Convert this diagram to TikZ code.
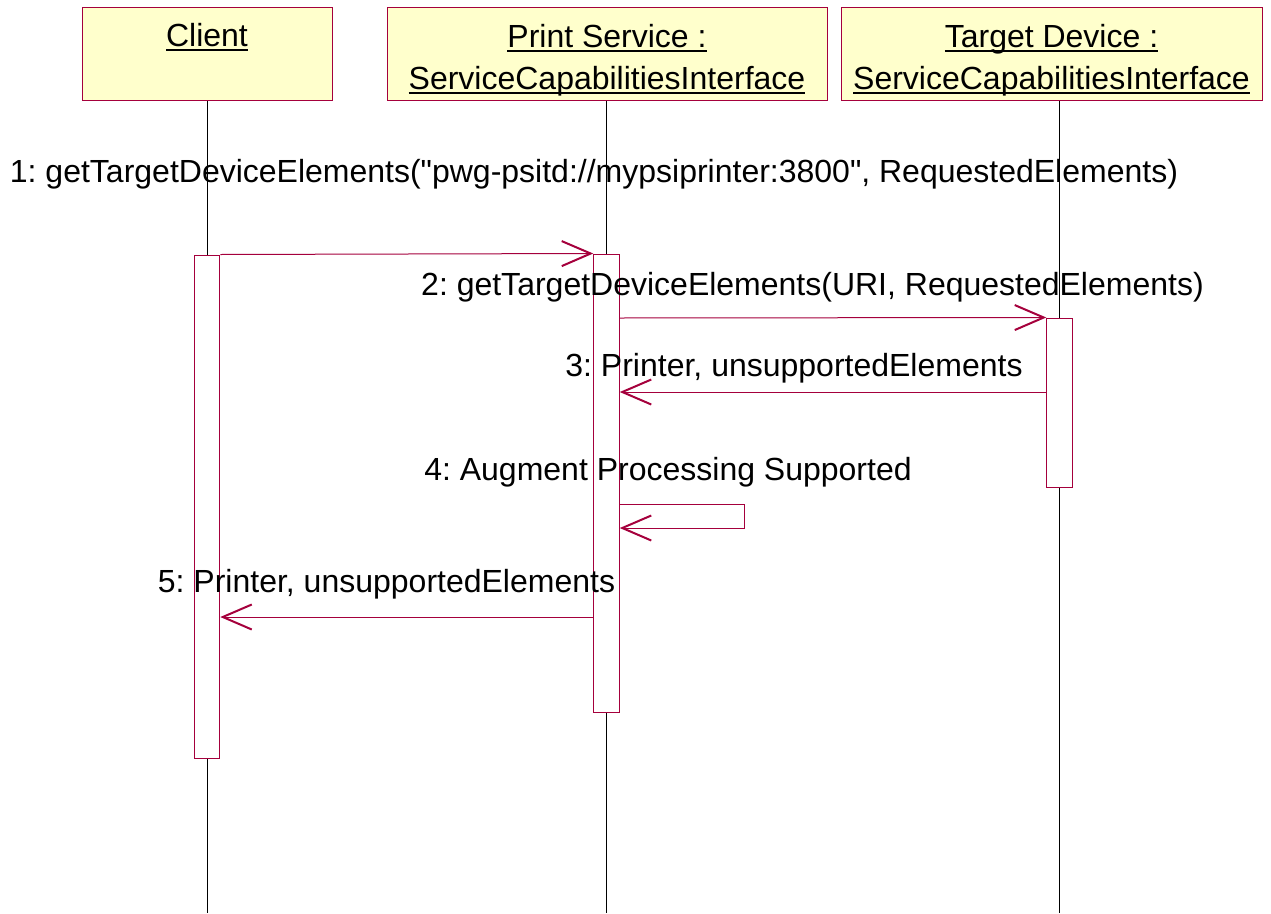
\documentclass[tikz,border=0pt]{standalone}
\usepackage{fontspec}
\setmainfont{Liberation Sans}
\usetikzlibrary{arrows.meta}
\definecolor{umlred}{RGB}{165,0,60}
\definecolor{umlyellow}{RGB}{255,255,204}
\newcommand\ulbox[1]{\setbox0\hbox{#1}\rlap{\rule[-4.5pt]{\wd0}{2pt}}\box0}
\frenchspacing
\begin{document}
\begin{tikzpicture}[x=1pt,y=-1pt,
  font=\fontsize{32}{42}\selectfont\frenchspacing,
  header/.style={draw=umlred,fill=umlyellow,line width=1pt,inner sep=0pt,anchor=north west},
  actbox/.style={draw=umlred,fill=white,line width=1pt,inner sep=0pt,minimum width=25.5pt},
  lifeline/.style={draw=black,line width=1pt},
  msg/.style={draw=umlred,line width=1pt,-{Straight Barb[length=29pt,width=25pt,line width=2pt]}},
  lbl/.style={inner sep=0pt,anchor=base}]
\useasboundingbox (0,0) rectangle (1271,913);
% header boxes
\node[header,minimum width=250pt,minimum height=93pt] (hc) at (82,7) {};
\node[header,minimum width=440pt,minimum height=93pt] (hp) at (387,7) {};
\node[header,minimum width=421pt,minimum height=93pt] (ht) at (841,7) {};
\node[lbl] (tc) at (207,46) {\ulbox{Client}};
\node[lbl] (tp1) at (607,47) {\ulbox{Print Service :}};
\node[lbl] (tp2) at (607,89) {\ulbox{ServiceCapabilitiesInterface}};
\node[lbl] (tt1) at (1051.5,47) {\ulbox{Target Device :}};
\node[lbl] (tt2) at (1051.5,89) {\ulbox{ServiceCapabilitiesInterface}};
% lifeline ends
\coordinate (ec) at (207,913);
\coordinate (ep) at (606,913);
\coordinate (et) at (1059,913);
\draw[lifeline] (hc.south -| ec) -- (ec);
\draw[lifeline] (hp.south -| ep) -- (ep);
\draw[lifeline] (ht.south -| et) -- (et);
% activation boxes
\node[actbox,minimum height=503pt] (ac) at (207,506.5) {};
\node[actbox,minimum height=458pt] (ap) at (606.5,483) {};
\node[actbox,minimum height=169pt] (at) at (1059.5,402.5) {};
% messages
\coordinate (m2) at (0,318);
\coordinate (m3) at (0,392);
\coordinate (m4a) at (0,504);
\coordinate (m4b) at (0,528);
\coordinate (m4r) at (744,0);
\coordinate (m5) at (0,617);
\draw[msg] (ac.north east) -- (ap.north west);
\draw[msg] (ap.east |- m2) -- (at.north west);
\draw[msg] (at.west |- m3) -- (ap.east |- m3);
\draw[msg] (ap.east |- m4a) -- (m4r |- m4a) -- (m4r |- m4b) -- (ap.east |- m4b);
\draw[msg] (ap.west |- m5) -- (ac.east |- m5);
% labels
\node[lbl] (l1) at (594,182) {1: getTargetDeviceElements(\textquotedbl pwg-psitd://mypsiprinter:3800\textquotedbl, RequestedElements)};
\node[lbl] (l2) at (812.5,295) {2: getTargetDeviceElements(URI, RequestedElements)};
\node[lbl] (l3) at (794,376) {3: Printer, unsupportedElements};
\node[lbl] (l4) at (668,480) {4: Augment Processing Supported};
\node[lbl] (l5) at (386.5,592) {5: Printer, unsupportedElements};
\end{tikzpicture}
\end{document}
